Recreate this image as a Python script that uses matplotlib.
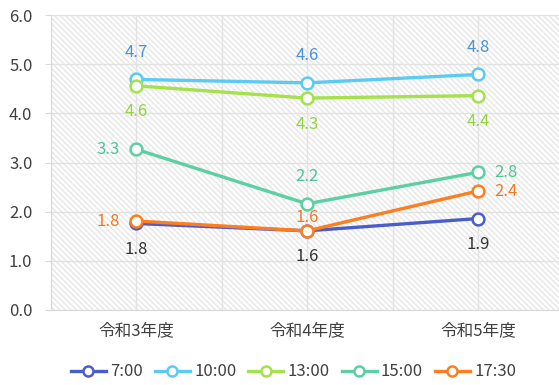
import matplotlib
matplotlib.use("Agg")
import matplotlib.pyplot as plt
from matplotlib.patches import Rectangle

plt.rcParams['font.family'] = ['Noto Sans CJK JP', 'DejaVu Sans']
plt.rcParams['hatch.linewidth'] = 1.0

categories = ['令和3年度', '令和4年度', '令和5年度']
series_names = ['7:00', '10:00', '13:00', '15:00', '17:30']
v_0700 = [1.76, 1.61, 1.86]
v_1000 = [4.69, 4.62, 4.79]
v_1300 = [4.56, 4.31, 4.36]
v_1500 = [3.27, 2.16, 2.80]
v_1730 = [1.81, 1.61, 2.42]
lbl_0700 = ['1.8', '1.6', '1.9']
lbl_1000 = ['4.7', '4.6', '4.8']
lbl_1300 = ['4.6', '4.3', '4.4']
lbl_1500 = ['3.3', '2.2', '2.8']
lbl_1730 = ['1.8', '1.6', '2.4']
yticks = [0, 1, 2, 3, 4, 5, 6]

line_colors = ['#4a5dcb', '#5ccbf3', '#a3e24a', '#5ccfa3', '#fd7e21']
label_colors = ['#333333', '#4a92d8', '#92d43e', '#4fc497', '#f07a22']
# label placement per point: (dx px, dy px)
A, B, L, R = (0, 27), (0, -26), (-28, 0), (28, 0)
places = [
    [B, B, B],
    [A, A, A],
    [B, B, B],
    [L, A, R],
    [L, (0, 13), R],
]
values = [v_0700, v_1000, v_1300, v_1500, v_1730]
labels = [lbl_0700, lbl_1000, lbl_1300, lbl_1500, lbl_1730]

FS = 12
fig = plt.figure(figsize=(5.59, 3.85), dpi=100)
W, H = 559, 385
ax = fig.add_axes([50.5 / W, 75 / H, 513 / W, 295 / H])
ax.set_xlim(-0.5, 2.5)
ax.set_ylim(0, 6)

bg = Rectangle((0, 0), 1, 1, transform=ax.transAxes, facecolor='white',
               edgecolor='#e6e6e6', hatch='\\\\\\\\\\\\', linewidth=0, zorder=0)
ax.add_patch(bg)

ax.set_xticks(range(len(categories)))
ax.set_xticklabels(categories)
ax.set_xticks([-0.5, 0.5, 1.5, 2.5], minor=True)
ax.set_yticks(yticks)
ax.set_yticklabels([f'{t:.1f}' for t in yticks])
ax.grid(True, which='both', color='#e2e2e2', linewidth=1.0, zorder=1)
ax.set_axisbelow(True)
for s in ['top', 'right']:
    ax.spines[s].set_visible(False)
ax.spines['left'].set_color('#d9d9d9')
ax.spines['bottom'].set_color('#d9d9d9')
ax.tick_params(axis='y', length=4, color='#d9d9d9', labelsize=FS, labelcolor='#404040', pad=9)
ax.tick_params(axis='x', which='major', length=0, labelsize=FS, labelcolor='#404040', pad=9)
ax.tick_params(axis='x', which='minor', length=0)

x = list(range(len(categories)))
handles = []
for i, name in enumerate(series_names):
    ln, = ax.plot(x, values[i], color=line_colors[i], linewidth=2.4, marker='o',
                  markersize=8.5, markerfacecolor='white', markeredgewidth=1.8,
                  markeredgecolor=line_colors[i], zorder=3 + i, clip_on=False, label=name)
    handles.append(ln)
    for j in range(len(x)):
        dx, dy = places[i][j]
        ax.annotate(labels[i][j], (x[j], values[i][j]), xytext=(dx * 0.72, dy * 0.72),
                    textcoords='offset points', ha='center', va='center',
                    fontsize=FS, color=label_colors[i], zorder=10)

leg = fig.legend(handles=handles, loc='center', bbox_to_anchor=(293.5 / W, 1 - 372 / H),
                 ncol=5, frameon=False, fontsize=FS, handlelength=2.1, markerscale=0.85,
                 columnspacing=0.72, handletextpad=0.25, borderaxespad=0, borderpad=0)
for t in leg.get_texts():
    t.set_color('#404040')

fig.savefig('out.png', dpi=100)
